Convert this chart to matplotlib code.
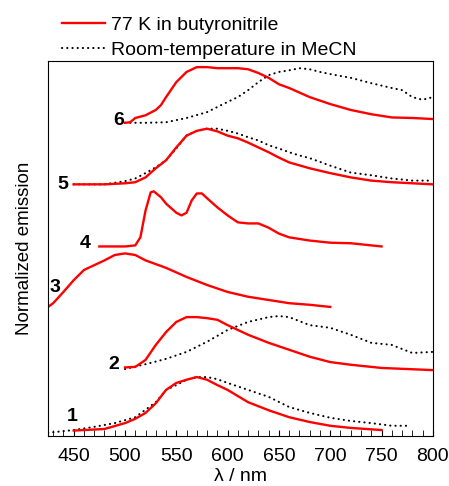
import numpy as np
import matplotlib
matplotlib.use("Agg")
import matplotlib.pyplot as plt
from matplotlib.ticker import MultipleLocator

plt.rcParams['font.family'] = ['Liberation Sans', 'DejaVu Sans']

# spectra: wavelength (nm) and normalized emission
# 77 K in butyronitrile (red) and room temperature in MeCN (dotted)
wl_lt1 = [450, 460, 470, 480, 500, 510, 520, 530, 540, 550, 560, 570, 580, 590, 600,
          620, 640, 660, 680, 700, 720, 750]
em_lt1 = [0.0, 0.01, 0.02, 0.03, 0.14, 0.22, 0.33, 0.51, 0.76, 0.89, 0.95, 1.0, 0.95,
          0.85, 0.76, 0.53, 0.38, 0.25, 0.16, 0.09, 0.05, 0.01]
wl_rt1 = [425, 450, 470, 490, 510, 530, 540, 550, 560, 570, 580, 590, 600, 620, 640,
          660, 680, 700, 720, 740, 760, 775]
em_rt1 = [-0.04, 0.01, 0.07, 0.14, 0.25, 0.53, 0.76, 0.85, 0.95, 1.0, 1.0, 0.96, 0.89,
          0.76, 0.63, 0.44, 0.33, 0.24, 0.18, 0.14, 0.09, 0.09]

wl_lt2 = [500, 510, 520, 530, 540, 550, 560, 570, 580, 590, 600, 610, 620, 640, 660,
          680, 700, 720, 750, 800]
em_lt2 = [0.01, 0.02, 0.15, 0.43, 0.67, 0.86, 0.95, 0.95, 0.93, 0.9, 0.8, 0.71, 0.62,
          0.47, 0.34, 0.21, 0.11, 0.06, 0.0, -0.04]
wl_rt2 = [500, 520, 540, 560, 580, 600, 620, 640, 650, 660, 680, 700, 720, 740, 760,
          780, 800]
em_rt2 = [-0.02, 0.07, 0.17, 0.30, 0.49, 0.71, 0.86, 0.95, 0.97, 0.95, 0.80, 0.75,
          0.62, 0.47, 0.43, 0.28, 0.30]

wl_lt3 = [425, 430, 440, 450, 460, 470, 480, 490, 500, 510, 520, 540, 560, 580, 600,
          620, 640, 660, 680, 700]
em_lt3 = [0.0, 0.07, 0.28, 0.5, 0.69, 0.78, 0.87, 0.97, 1.0, 0.97, 0.87, 0.73, 0.56,
          0.41, 0.28, 0.19, 0.13, 0.07, 0.04, 0.0]

wl_lt4 = [475, 500, 510, 515, 520, 525, 528, 535, 540, 550, 555, 560, 565, 570, 575,
          580, 590, 600, 610, 620, 630, 640, 650, 660, 680, 700, 720, 750]
em_lt4 = [0.0, 0.0, 0.02, 0.17, 0.67, 1.01, 1.03, 0.92, 0.8, 0.63, 0.58, 0.63, 0.86,
          0.99, 0.99, 0.9, 0.73, 0.58, 0.45, 0.43, 0.43, 0.35, 0.24, 0.17, 0.11, 0.07,
          0.06, 0.0]

wl_lt5 = [450, 480, 500, 510, 520, 530, 540, 550, 560, 570, 580, 590, 600, 610, 620,
          630, 640, 650, 660, 680, 700, 720, 740, 760, 800]
em_lt5 = [0.0, 0.0, 0.02, 0.04, 0.13, 0.3, 0.45, 0.69, 0.91, 1.0, 1.04, 0.99, 0.91,
          0.86, 0.78, 0.69, 0.6, 0.5, 0.41, 0.3, 0.21, 0.13, 0.07, 0.04, 0.0]
wl_rt5 = [450, 480, 500, 510, 520, 530, 540, 550, 560, 570, 580, 590, 600, 610, 620,
          630, 640, 650, 660, 670, 680, 700, 720, 740, 760, 780, 800]
em_rt5 = [0.0, 0.0, 0.06, 0.11, 0.21, 0.32, 0.45, 0.67, 0.91, 1.0, 1.04, 1.04, 1.0,
          0.95, 0.88, 0.82, 0.73, 0.67, 0.6, 0.54, 0.49, 0.35, 0.22, 0.17, 0.11, 0.07,
          0.07]

wl_lt6 = [500, 505, 510, 520, 530, 535, 540, 550, 560, 570, 580, 590, 600, 610, 620,
          630, 640, 650, 660, 680, 700, 720, 740, 760, 780, 800]
em_lt6 = [0.0, 0.01, 0.09, 0.14, 0.24, 0.33, 0.48, 0.76, 0.95, 1.04, 1.04, 1.02, 1.02,
          1.02, 1.0, 0.93, 0.84, 0.72, 0.65, 0.48, 0.35, 0.24, 0.16, 0.1, 0.09, 0.07]
wl_rt6 = [500, 520, 540, 560, 580, 600, 610, 620, 630, 640, 650, 660, 670, 680, 690,
          700, 720, 740, 760, 770, 780, 790, 800]
em_rt6 = [0.0, 0.0, 0.01, 0.09, 0.2, 0.39, 0.48, 0.61, 0.76, 0.89, 0.95, 0.98, 1.02,
          1.0, 0.95, 0.91, 0.84, 0.74, 0.65, 0.61, 0.48, 0.43, 0.48]

# vertical stacking offset of each compound
offsets = [0.10, 1.27, 2.41, 3.54, 4.70, 5.85]
labels = ["1", "2", "3", "4", "5", "6"]
label_x = [449, 489, 432, 461, 439, 494]
label_y = [0.37, 1.34, 2.78, 3.60, 4.70, 5.90]

low_t = [(wl_lt1, em_lt1), (wl_lt2, em_lt2), (wl_lt3, em_lt3),
         (wl_lt4, em_lt4), (wl_lt5, em_lt5), (wl_lt6, em_lt6)]
room_t = [(wl_rt1, em_rt1), (wl_rt2, em_rt2), None, None,
          (wl_rt5, em_rt5), (wl_rt6, em_rt6)]

fig = plt.figure(figsize=(4.49, 4.86), dpi=100)
ax = fig.add_axes([0.107, 0.103, 0.857, 0.771])

red = "#ff0000"
for i in range(6):
    off = offsets[i]
    if room_t[i] is not None:
        w, e = room_t[i]
        hr, = ax.plot(w, np.array(e) + off, color="black", lw=1.5,
                      linestyle=(0, (0.1, 2.4)), dash_capstyle="round")
    w, e = low_t[i]
    hl, = ax.plot(w, np.array(e) + off, color=red, lw=1.7)
    ax.text(label_x[i], label_y[i], labels[i], fontsize=14, fontweight="bold",
            ha="center", va="center")

ax.set_xlim(425, 800)
ax.set_ylim(0, 7)
ax.xaxis.set_major_locator(MultipleLocator(50))
ax.xaxis.set_minor_locator(MultipleLocator(10))
ax.tick_params(axis="x", which="both", direction="in", top=False, labelsize=14,
               length=4, pad=9)
ax.set_yticks([])
ax.set_xlabel("λ / nm", fontsize=14, labelpad=2)
ax.set_ylabel("Normalized emission", fontsize=13.5, labelpad=11)

fig.legend([hl, hr], ["77 K in butyronitrile", "Room-temperature in MeCN"],
           loc="upper left", bbox_to_anchor=(0.138, 0.966), frameon=False,
           fontsize=14, handlelength=2.2, handletextpad=0.3, labelspacing=0.35,
           borderpad=0, borderaxespad=0)

fig.savefig("out.png", dpi=100)
